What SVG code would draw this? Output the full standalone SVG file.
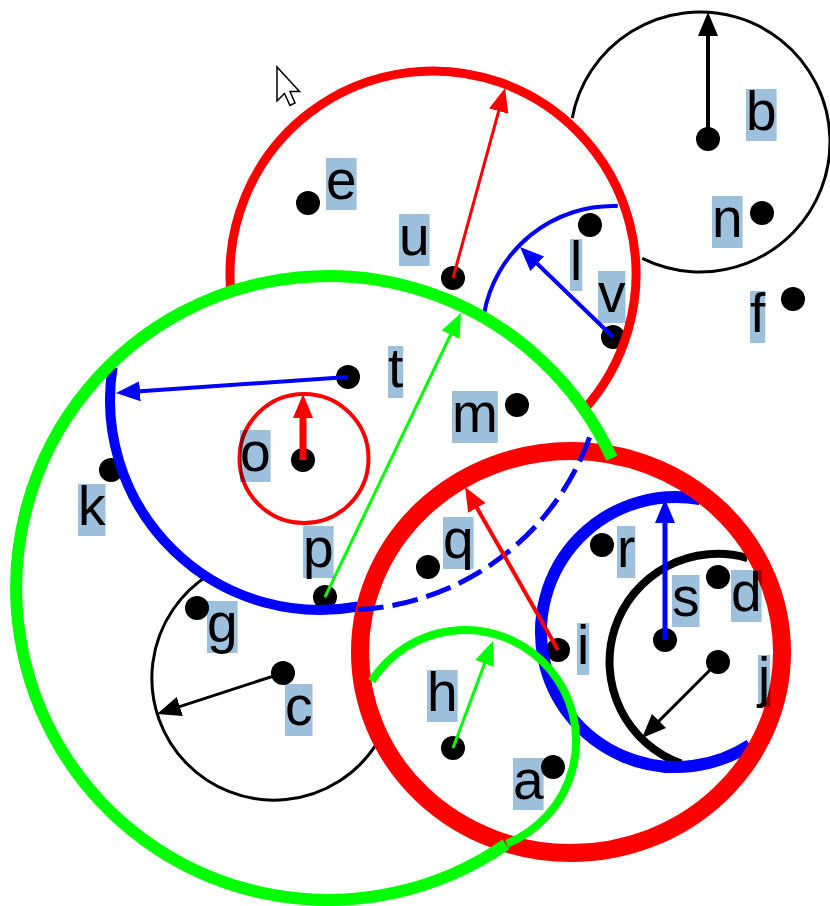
<svg xmlns="http://www.w3.org/2000/svg" width="830" height="906" viewBox="0 0 830 906">
  <style>
    .dot { fill: #000; }
    .ring { fill: none; }
    .red { stroke: #ff0000; }
    .green { stroke: #00ff00; }
    .blue { stroke: #0000ff; }
    .black { stroke: #000; }
    .lbl rect { fill: #9dc0dc; mix-blend-mode: multiply; }
    .lbl text { font-family: "Liberation Sans", Arial, sans-serif; font-size: 55px; fill: #000; }
    .radius { fill: none; }
  </style>
  <defs>
    <marker id="head-red" viewBox="0 0 24 20" markerWidth="24" markerHeight="20" refX="14" refY="10" orient="auto" markerUnits="userSpaceOnUse">
      <path d="M0,0 L24,10 L0,20 Z" fill="#ff0000"/>
    </marker>
    <marker id="head-green" viewBox="0 0 24 20" markerWidth="24" markerHeight="20" refX="14" refY="10" orient="auto" markerUnits="userSpaceOnUse">
      <path d="M0,0 L24,10 L0,20 Z" fill="#00ff00"/>
    </marker>
    <marker id="head-blue" viewBox="0 0 24 20" markerWidth="24" markerHeight="20" refX="14" refY="10" orient="auto" markerUnits="userSpaceOnUse">
      <path d="M0,0 L24,10 L0,20 Z" fill="#0000ff"/>
    </marker>
    <marker id="head-black" viewBox="0 0 24 20" markerWidth="24" markerHeight="20" refX="14" refY="10" orient="auto" markerUnits="userSpaceOnUse">
      <path d="M0,0 L24,10 L0,20 Z" fill="#000"/>
    </marker>
  </defs>

  <rect width="830" height="906" fill="#fff"/>

  <!-- data points -->
  <g id="points">
    <g id="pt-a"><circle class="dot" cx="553" cy="767" r="12"/></g>
    <g id="pt-b"><circle class="dot" cx="708" cy="139" r="12"/></g>
    <g id="pt-c"><circle class="dot" cx="283" cy="673" r="12"/></g>
    <g id="pt-d"><circle class="dot" cx="718" cy="577" r="12"/></g>
    <g id="pt-e"><circle class="dot" cx="308" cy="203" r="12"/></g>
    <g id="pt-f"><circle class="dot" cx="793" cy="299" r="12"/></g>
    <g id="pt-g"><circle class="dot" cx="197" cy="608" r="12"/></g>
    <g id="pt-h"><circle class="dot" cx="453" cy="748" r="12"/></g>
    <g id="pt-i"><circle class="dot" cx="558" cy="650" r="12"/></g>
    <g id="pt-j"><circle class="dot" cx="718" cy="662" r="12"/></g>
    <g id="pt-k"><circle class="dot" cx="111" cy="470" r="12"/></g>
    <g id="pt-l"><circle class="dot" cx="590" cy="225" r="12"/></g>
    <g id="pt-m"><circle class="dot" cx="517" cy="405" r="12"/></g>
    <g id="pt-n"><circle class="dot" cx="762" cy="213" r="12"/></g>
    <g id="pt-o"><circle class="dot" cx="303" cy="460" r="12"/></g>
    <g id="pt-p"><circle class="dot" cx="325" cy="597" r="12"/></g>
    <g id="pt-q"><circle class="dot" cx="428" cy="567" r="12"/></g>
    <g id="pt-r"><circle class="dot" cx="602" cy="545" r="12"/></g>
    <g id="pt-s"><circle class="dot" cx="665" cy="640" r="12"/></g>
    <g id="pt-t"><circle class="dot" cx="348" cy="377" r="12"/></g>
    <g id="pt-u"><circle class="dot" cx="453" cy="278" r="12"/></g>
    <g id="pt-v"><circle class="dot" cx="613" cy="337" r="12"/></g>
  </g>

  <!-- bounding circles, each cut where it passes under another ring -->
  <g id="circles">
    <path id="circle-c" class="ring black" stroke-width="3" d="M210.3,574 A122,122 0 1 0 376.3,744.4"/>
    <path id="circle-t" class="ring blue" stroke-width="10" d="M112.6,367.1 A210,210 0 0 0 358,606.5"/>
    <circle id="circle-o" class="ring red" stroke-width="4" cx="304" cy="458.5" r="64.5"/>
    <path id="circle-v" class="ring blue" stroke-width="4" d="M484,314.3 A131,131 0 0 1 617.8,206.1"/>
    <path id="circle-b" class="ring black" stroke-width="3" d="M572.2,118.1 A130,130 0 1 1 642.2,258.4"/>
    <path id="circle-u" class="ring red" stroke-width="9" d="M230.5,288.2 A203,203 0 1 1 582.7,411.1"/>
    <path id="circle-j" class="ring black" stroke-width="8" d="M747.6,558.1 A108,108 0 0 0 681.1,763.5"/>
    <path id="circle-s" class="ring blue" stroke-width="12" d="M700.1,499.2 A135,135 0 1 0 749.9,745"/>
    <ellipse id="circle-i" class="ring red" stroke-width="18" cx="571" cy="652" rx="211" ry="201"/>
    <path id="circle-p" class="ring green" stroke-width="12" d="M505.9,844.4 A312,312 0 1 1 611.9,458.2"/>
    <path id="circle-h" class="ring green" stroke-width="8" d="M371.6,681.1 A111,111 0 1 1 506.8,843.8"/>
    <path id="circle-t-hidden" class="ring blue" stroke-width="5" stroke-dasharray="26 9" d="M357.7,609.6 A261,261 0 0 0 591.2,432.7"/>
  </g>

  <!-- radius connectors -->
  <g id="connectors" class="radius">
    <line x1="708" y1="139" x2="708" y2="22" stroke="#000" stroke-width="4" marker-end="url(#head-black)"/>
    <line x1="453" y1="278" x2="502.4" y2="97.6" stroke="#ff0000" stroke-width="3" marker-end="url(#head-red)"/>
    <line x1="613" y1="337" x2="527.2" y2="254" stroke="#0000ff" stroke-width="4" marker-end="url(#head-blue)"/>
    <line x1="348" y1="377" x2="126" y2="392.3" stroke="#0000ff" stroke-width="4" marker-end="url(#head-blue)"/>
    <line x1="303" y1="460" x2="303" y2="404" stroke="#ff0000" stroke-width="7" marker-end="url(#head-red)"/>
    <line x1="325" y1="597" x2="456.7" y2="322" stroke="#00ff00" stroke-width="3" marker-end="url(#head-green)"/>
    <line x1="558" y1="650" x2="470" y2="495.7" stroke="#ff0000" stroke-width="4" marker-end="url(#head-red)"/>
    <line x1="665" y1="640" x2="665" y2="509" stroke="#0000ff" stroke-width="5" marker-end="url(#head-blue)"/>
    <line x1="718" y1="662" x2="649.1" y2="730.9" stroke="#000" stroke-width="3" marker-end="url(#head-black)"/>
    <line x1="453" y1="748" x2="489.5" y2="650.4" stroke="#00ff00" stroke-width="3" marker-end="url(#head-green)"/>
    <line x1="283" y1="673" x2="166.5" y2="710.9" stroke="#000" stroke-width="3" marker-end="url(#head-black)"/>
  </g>

  <!-- point labels -->
  <g id="labels">
    <g id="lbl-a" class="lbl"><rect x="513" y="758" width="30.6" height="52"/><text x="513" y="799">a</text></g>
    <g id="lbl-b" class="lbl"><rect x="746" y="89" width="30.6" height="52"/><text x="746" y="130">b</text></g>
    <g id="lbl-c" class="lbl"><rect x="285" y="684" width="27.5" height="52"/><text x="285" y="725">c</text></g>
    <g id="lbl-d" class="lbl"><rect x="731" y="570" width="30.6" height="52"/><text x="731" y="611">d</text></g>
    <g id="lbl-e" class="lbl"><rect x="326" y="158" width="30.6" height="52"/><text x="326" y="199">e</text></g>
    <g id="lbl-f" class="lbl"><rect x="750" y="291" width="15.3" height="52"/><text x="750" y="332">f</text></g>
    <g id="lbl-g" class="lbl"><rect x="207" y="601" width="30.6" height="52"/><text x="207" y="642">g</text></g>
    <g id="lbl-h" class="lbl"><rect x="427" y="670" width="30.6" height="52"/><text x="427" y="711">h</text></g>
    <g id="lbl-i" class="lbl"><rect x="577" y="623" width="12.2" height="52"/><text x="577" y="664">i</text></g>
    <g id="lbl-j" class="lbl"><rect x="758" y="655" width="12.2" height="52"/><text x="758" y="696">j</text></g>
    <g id="lbl-k" class="lbl"><rect x="78" y="484" width="27.5" height="52"/><text x="78" y="525">k</text></g>
    <g id="lbl-l" class="lbl"><rect x="570" y="239" width="12.2" height="52"/><text x="570" y="280">l</text></g>
    <g id="lbl-m" class="lbl"><rect x="452" y="391" width="45.8" height="52"/><text x="452" y="432">m</text></g>
    <g id="lbl-n" class="lbl"><rect x="712" y="196" width="30.6" height="52"/><text x="712" y="237">n</text></g>
    <g id="lbl-o" class="lbl"><rect x="240" y="430" width="30.6" height="52"/><text x="240" y="471">o</text></g>
    <g id="lbl-p" class="lbl"><rect x="303" y="526" width="30.6" height="52"/><text x="303" y="567">p</text></g>
    <g id="lbl-q" class="lbl"><rect x="443" y="517" width="30.6" height="52"/><text x="443" y="558">q</text></g>
    <g id="lbl-r" class="lbl"><rect x="617" y="526" width="18.3" height="52"/><text x="617" y="567">r</text></g>
    <g id="lbl-s" class="lbl"><rect x="672" y="575" width="27.5" height="52"/><text x="672" y="616">s</text></g>
    <g id="lbl-t" class="lbl"><rect x="388" y="346" width="15.3" height="52"/><text x="388" y="387">t</text></g>
    <g id="lbl-u" class="lbl"><rect x="399" y="214" width="30.6" height="52"/><text x="399" y="255">u</text></g>
    <g id="lbl-v" class="lbl"><rect x="598" y="271" width="27.5" height="52"/><text x="598" y="312">v</text></g>
  </g>

  <!-- mouse pointer -->
  <polygon id="pointer" points="277,67 277,101 284.5,93.5 290,105.5 295,103 290,91.5 299.5,91.5" fill="#fff" stroke="#000" stroke-width="1.5" stroke-linejoin="miter"/>
</svg>
